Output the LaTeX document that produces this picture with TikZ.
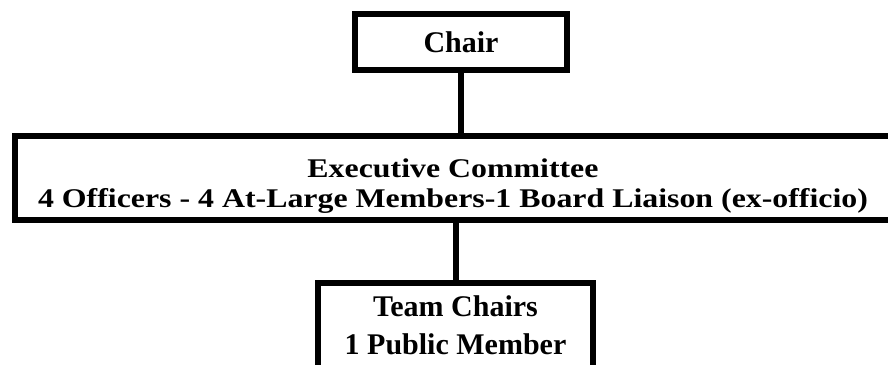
\documentclass[tikz,border=0pt]{standalone}
\usepackage{fontspec}
\usepackage{graphicx}
\setmainfont{Liberation Serif}
\newcommand{\hstretch}[2]{\scalebox{#1}[1]{#2}}
\begin{document}
\begin{tikzpicture}[x=1pt,y=-1pt,
  orgbox/.style={draw=black, line width=6pt, inner sep=0pt, align=center,
                 font=\bfseries},
  orgtext/.style={inner sep=0pt, align=center},
  link/.style={draw=black, line width=6pt}]
  \useasboundingbox (0,0) rectangle (888,364);
  \clip (0,0) rectangle (888,364);
  \fill[white] (0,0) rectangle (888,364);

  % top box
  \node[orgbox, minimum width=212pt, minimum height=56pt,
        font=\bfseries\fontsize{30}{36}\selectfont] (chair) at (461,42)
        {Chair};

  % wide committee box, its right edge runs off the page
  \node[orgbox, minimum width=876pt, minimum height=84pt] (exec) at (453,178) {};
  \node[orgtext, font=\bfseries\fontsize{27}{30}\selectfont] (execlbl) at (453,186)
        {\hstretch{1.18}{\begin{tabular}{@{}c@{}}Executive Committee\\
         4 Officers - 4 At-Large Members-1 Board Liaison (ex-officio)\end{tabular}}};

  % bottom box, cut by the lower edge
  \node[orgbox, minimum width=275pt, minimum height=89pt,
        font=\bfseries\fontsize{30}{38}\selectfont] (team) at (455.5,327.5)
        {\begin{tabular}{@{}c@{}}Team Chairs\\ 1 Public Member\end{tabular}};

  % connectors
  \draw[link] (chair.south) -- (chair.south |- exec.north);
  \draw[link] (team.north) -- (team.north |- exec.south);
\end{tikzpicture}
\end{document}
